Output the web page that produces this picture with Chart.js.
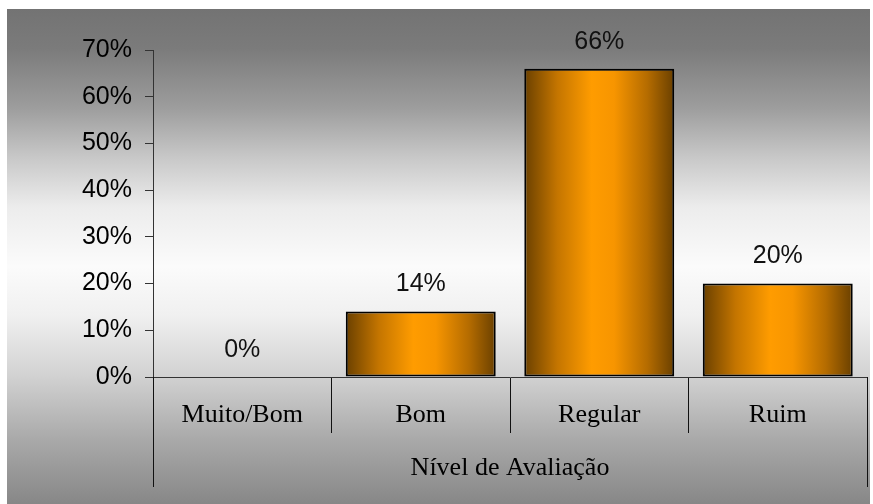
<!DOCTYPE html>
<html>
<head>
<meta charset="utf-8">
<script src="https://cdn.jsdelivr.net/npm/chart.js@4"></script>
<style>
  html, body { margin: 0; padding: 0; background: #fff; }
  #wrap { width: 873px; height: 504px; }
</style>
</head>
<body>
<div id="wrap"><canvas id="myChart" width="873" height="504"></canvas></div>
<script>
const categories = ['Muito/Bom', 'Bom', 'Regular', 'Ruim'];
const values = [0, 14, 66, 20];
const yTicks = [0, 10, 20, 30, 40, 50, 60, 70];
const axisTitle = 'Nível de Avaliação';

const barPct = 0.84;

// grey page gradient behind the plot
const bgPlugin = {
    id: 'bg',
    beforeDraw(chart) {
        const c = chart.ctx;
        const g = c.createLinearGradient(0, 9, 0, chart.height);
        g.addColorStop(0, '#737373');
        g.addColorStop(0.08, '#7b7b7b');
        g.addColorStop(0.2, '#9d9d9d');
        g.addColorStop(0.3, '#c8c8c8');
        g.addColorStop(0.4, '#ececec');
        g.addColorStop(0.52, '#fbfbfb');
        g.addColorStop(0.62, '#f0f0f0');
        g.addColorStop(0.74, '#d2d2d2');
        g.addColorStop(0.87, '#a9a9a9');
        g.addColorStop(1, '#878787');
        c.save();
        c.fillStyle = g;
        c.fillRect(7, 9, chart.width - 10, chart.height - 9);
        c.restore();
    }
};

// outer frame lines of the category table + value labels
const extrasPlugin = {
    id: 'extras',
    afterDraw(chart) {
        const c = chart.ctx;
        const x = chart.scales.x;
        c.save();
        c.strokeStyle = '#111';
        c.lineWidth = 1;
        [x.left, x.right].forEach(px => {
            c.beginPath();
            c.moveTo(Math.round(px) + 0.5, x.top);
            c.lineTo(Math.round(px) + 0.5, x.bottom - 17);
            c.stroke();
        });
        const meta = chart.getDatasetMeta(0);
        c.fillStyle = '#111';
        c.font = '25px "Liberation Sans", Arial, sans-serif';
        c.textAlign = 'center';
        c.textBaseline = 'middle';
        meta.data.forEach((bar, i) => {
            c.fillText(values[i] + '%', bar.x, bar.y - 27);
        });
        c.restore();
    }
};

function barFill(ctx) {
    const chart = ctx.chart;
    const x = chart.scales.x;
    if (!x || x.width === undefined) return '#ff9900';
    const cx = x.getPixelForValue(ctx.dataIndex);
    const half = (x.width / categories.length) * barPct / 2;
    const g = chart.ctx.createLinearGradient(cx - half, 0, cx + half, 0);
    g.addColorStop(0, '#6a4000');
    g.addColorStop(0.22, '#c47500');
    g.addColorStop(0.45, '#ff9c00');
    g.addColorStop(0.6, '#f79500');
    g.addColorStop(0.82, '#b56c00');
    g.addColorStop(1, '#6a4000');
    return g;
}

const ctx = document.querySelector('#myChart');
new Chart(ctx, {
    type: 'bar',
    data: {
        labels: categories,
        datasets: [{
            data: values,
            backgroundColor: barFill,
            borderColor: '#000',
            borderWidth: 2,
            borderSkipped: false,
            barPercentage: barPct,
            categoryPercentage: 1.0
        }]
    },
    options: {
        responsive: false,
        animation: false,
        layout: { padding: { left: 7, right: 6, top: 50, bottom: 0 } },
        plugins: {
            legend: { display: false },
            tooltip: { enabled: false }
        },
        scales: {
            y: {
                min: 0,
                max: 70,
                afterFit(s) { s.width = 146; },
                afterBuildTicks(s) { s.ticks = yTicks.map(v => ({ value: v })); },
                ticks: {
                    callback: v => v + '%',
                    color: '#000',
                    padding: 13,
                    font: { family: '"Liberation Sans", Arial, sans-serif', size: 25 }
                },
                grid: { drawOnChartArea: false, tickLength: 8, color: '#333' },
                border: { color: '#333', width: 1 }
            },
            x: {
                afterFit(s) { s.height = 127; },
                ticks: {
                    color: '#000',
                    padding: -33,
                    font: { family: '"Liberation Serif", "Times New Roman", serif', size: 26 }
                },
                grid: { offset: true, drawOnChartArea: false, tickLength: 56, color: '#111' },
                border: { color: '#333', width: 1 },
                title: {
                    display: true,
                    text: axisTitle,
                    color: '#000',
                    padding: { top: 0, bottom: 20 },
                    font: { family: '"Liberation Serif", "Times New Roman", serif', size: 26 }
                }
            }
        }
    },
    plugins: [bgPlugin, extrasPlugin]
});
</script>
</body>
</html>
